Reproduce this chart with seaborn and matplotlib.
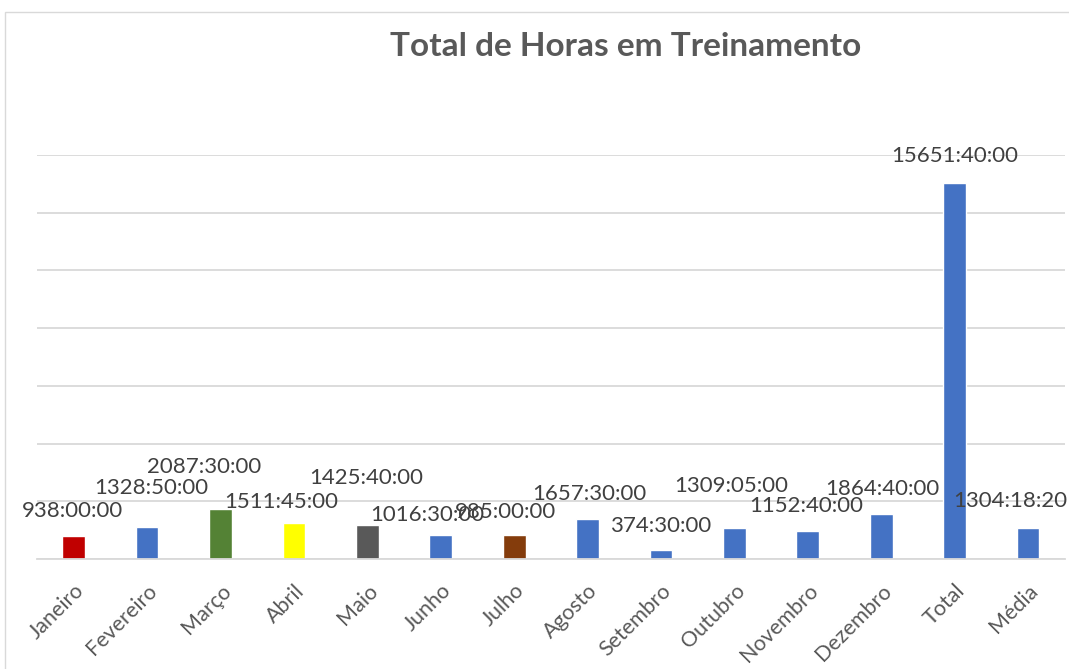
import numpy as np
import pandas as pd
import matplotlib
matplotlib.use("Agg")
import matplotlib.pyplot as plt
import seaborn as sns
from matplotlib.patches import Rectangle

# dados do gráfico
meses = ["Janeiro", "Fevereiro", "Março", "Abril", "Maio", "Junho", "Julho",
         "Agosto", "Setembro", "Outubro", "Novembro", "Dezembro", "Total", "Média"]
tempos = ["938:00:00", "1328:50:00", "2087:30:00", "1511:45:00", "1425:40:00",
          "1016:30:00", "985:00:00", "1657:30:00", "374:30:00", "1309:05:00",
          "1152:40:00", "1864:40:00", "15651:40:00", "1304:18:20"]
cores = ["#C00000", "#4472C4", "#548235", "#FFFF00", "#595959", "#4472C4", "#843C0C",
         "#4472C4", "#4472C4", "#4472C4", "#4472C4", "#4472C4", "#4472C4", "#4472C4"]
# deslocamento dos rótulos (x, y) em pontos, como movidos no Excel
desloc_x = [-1, 3, -12, -9, -1, -10, -6, 1, 0, -2, -1, 1, 0, -13]
desloc_y = [18, 28, 30, 15, 34, 14, 17, 18, 17, 30, 18, 18, 19, 19]


def para_horas(t):
    h, m, s = t.split(":")
    return int(h) + int(m) / 60 + int(s) / 3600


df = pd.DataFrame({"mes": meses, "horas": [para_horas(t) for t in tempos], "rotulo": tempos})

sns.set_style("white")
plt.rcParams["font.family"] = ["Lato", "DejaVu Sans"]

fig = plt.figure(figsize=(10.69, 6.69), dpi=100)
ax = fig.add_axes([0.0346, 0.1644, 0.9614, 0.6039])

sns.barplot(data=df, x="mes", y="horas", hue="mes", palette=cores, legend=False,
            width=0.31, saturation=1, ax=ax)

ax.set_ylim(0, 16800)
ax.set_xlim(-0.5, len(meses) - 0.5)
ax.set_yticks(np.arange(0, 16801, 2400))
ax.yaxis.grid(True, color="#D9D9D9", lw=1.3)
ax.set_axisbelow(True)
ax.tick_params(axis="y", left=False, labelleft=False)
ax.tick_params(axis="x", bottom=False, pad=12, labelsize=15.5, labelcolor="#595959")
for s in ["top", "left", "right"]:
    ax.spines[s].set_visible(False)
ax.spines["bottom"].set_color("#D9D9D9")
ax.spines["bottom"].set_linewidth(1.3)
ax.set_xlabel("")
ax.set_ylabel("")
plt.setp(ax.get_xticklabels(), rotation=45, ha="right", rotation_mode="anchor")

for i, row in df.iterrows():
    ax.annotate(row["rotulo"], (i, row["horas"]), xytext=(desloc_x[i], desloc_y[i]),
                textcoords="offset points", ha="center", va="center",
                fontsize=16, color="#404040")

fig.text(0.5856, 0.930, "Total de Horas em Treinamento", ha="center", va="center",
         fontsize=24, fontweight="bold", color="#595959")

fig.patches.append(Rectangle((0.0047, -0.1), 1.2, 1.082, transform=fig.transFigure,
                             fill=False, ec="#D9D9D9", lw=1))

fig.savefig("out.png", dpi=100)
